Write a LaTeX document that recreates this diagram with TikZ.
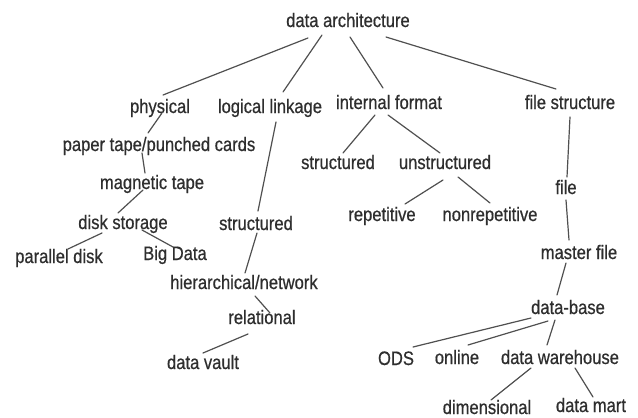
\documentclass[tikz,border=0pt]{standalone}
\usepackage{fontspec}
\setmainfont{Liberation Sans}[FakeStretch=0.85,FakeBold=0.6]
\usetikzlibrary{calc}
\definecolor{ink}{HTML}{2E2E2E}
\definecolor{wire}{HTML}{505050}
\tikzset{
  lbl/.style={inner sep=0pt, text=ink, font=\fontsize{19.5}{21}\selectfont,
              text height=14pt, text depth=4pt, anchor=center},
  link/.style={draw=wire, line width=1.2pt, line cap=round}
}
\begin{document}
\begin{tikzpicture}[x=1pt,y=-1pt]
\useasboundingbox[fill=white] (0,0) rectangle (638,418);

% labels
\node[lbl] (da)   at (348,22)  {data architecture};
\node[lbl] (phys) at (160,108) {physical};
\node[lbl] (ll)   at (270,108) {logical linkage};
\node[lbl] (ifm)  at (389,104) {internal format};
\node[lbl] (fs)   at (570,104) {file structure};
\node[lbl] (pt)   at (159,146) {paper tape/punched cards};
\node[lbl] (mt)   at (152,184) {magnetic tape};
\node[lbl] (sti)  at (338,164) {structured};
\node[lbl] (un)   at (445,164) {unstructured};
\node[lbl] (file) at (566,189) {file};
\node[lbl] (ds)   at (123,224) {disk storage};
\node[lbl] (stl)  at (256,225) {structured};
\node[lbl] (pd)   at (59,258)  {parallel disk};
\node[lbl] (bd)   at (175,255) {Big Data};
\node[lbl] (hn)   at (244,284) {hierarchical/network};
\node[lbl] (rel)  at (262,319) {relational};
\node[lbl] (dv)   at (203,364) {data vault};
\node[lbl] (rep)  at (382,216) {repetitive};
\node[lbl] (nr)   at (490,216) {nonrepetitive};
\node[lbl] (mf)   at (579,254) {master file};
\node[lbl] (db)   at (568,309) {data-base};
\node[lbl] (ods)  at (396,360) {ODS};
\node[lbl] (onl)  at (457,359) {online};
\node[lbl] (dw)   at (560,359) {data warehouse};
\node[lbl] (dim)  at (487,409) {dimensional};
\node[lbl] (dm)   at (591,407) {data mart};

% connectors, each end given relative to its label
\draw[link] ($(da)+(-40,16)$)  -- ($(phys)+(3,-13)$);
\draw[link] ($(da)+(-26,13)$)  -- ($(ll)+(13,-16)$);
\draw[link] ($(da)+(2,15)$)    -- ($(ifm)+(-6,-16)$);
\draw[link] ($(da)+(38,15)$)   -- ($(fs)+(-14,-15)$);

\draw[link] ($(phys)+(2,5)$)   -- ($(pt)+(-11,-13)$);
\draw[link] ($(pt)+(-17,7)$)   -- ($(mt)+(-7,-11)$);
\draw[link] ($(mt)+(-9,6)$)    -- ($(ds)+(-5,-11)$);
\draw[link] ($(ds)+(-21,9)$)   -- ($(pd)+(9,-9)$);
\draw[link] ($(ds)+(19,6)$)    -- ($(bd)+(-2,-8)$);

\draw[link] ($(ll)+(6,14)$)    -- ($(stl)+(2,-14)$);
\draw[link] ($(stl)+(1,8)$)    -- ($(hn)+(1,-11)$);
\draw[link] ($(hn)+(11,12)$)   -- ($(rel)+(8,-6)$);
\draw[link] ($(rel)+(-14,15)$) -- ($(dv)+(0,-11)$);

\draw[link] ($(ifm)+(-14,11)$) -- ($(sti)+(5,-11)$);
\draw[link] ($(ifm)+(-1,11)$)  -- ($(un)+(-5,-11)$);
\draw[link] ($(un)+(-2,16)$)   -- ($(rep)+(23,-12)$);
\draw[link] ($(un)+(13,13)$)   -- ($(nr)+(0,-13)$);

\draw[link] ($(fs)+(0,13)$)    -- ($(file)+(1,-12)$);
\draw[link] ($(file)+(0,11)$)  -- ($(mf)+(-10,-14)$);
\draw[link] ($(mf)+(-13,9)$)   -- ($(db)+(-11,-14)$);
\draw[link] ($(db)+(-37,9)$)   -- ($(ods)+(17,-13)$);
\draw[link] ($(db)+(-20,12)$)  -- ($(onl)+(11,-14)$);
\draw[link] ($(db)+(-13,11)$)  -- ($(dw)+(-13,-14)$);
\draw[link] ($(dw)+(-29,9)$)   -- ($(dim)+(4,-9)$);
\draw[link] ($(dw)+(15,9)$)    -- ($(dm)+(2,-10)$);
\end{tikzpicture}
\end{document}
